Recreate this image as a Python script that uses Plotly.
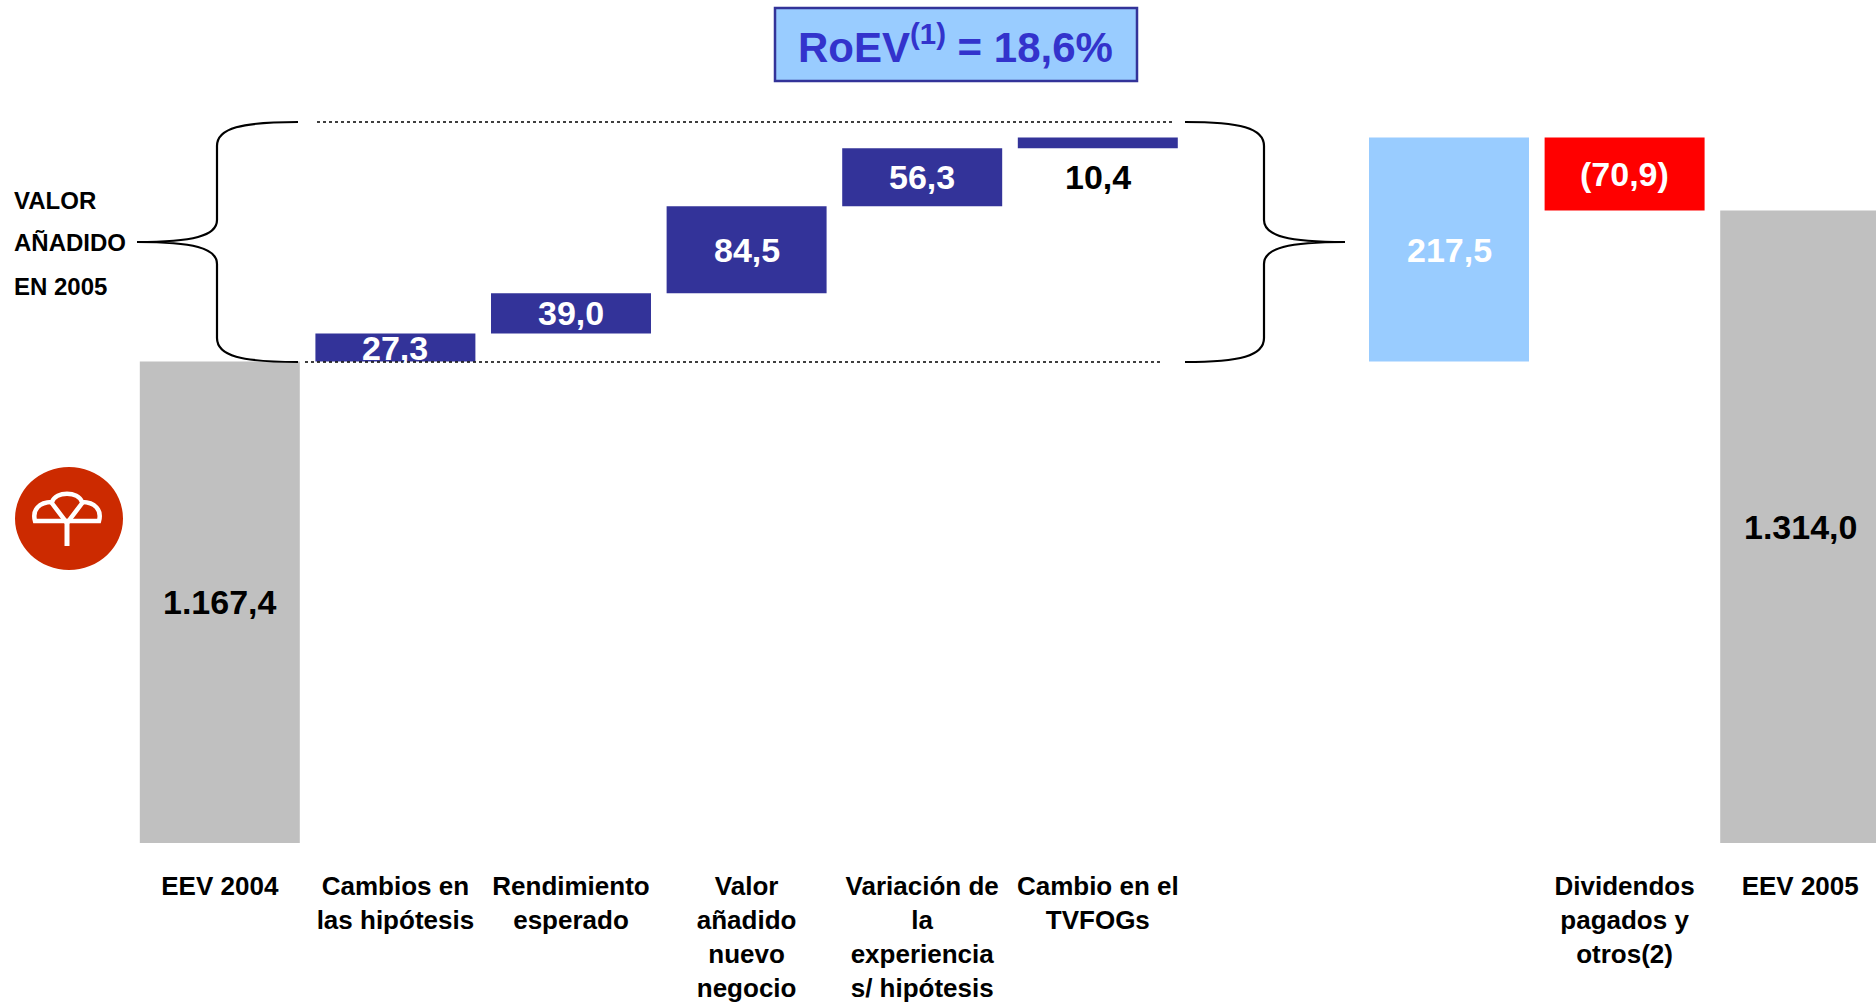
import plotly.graph_objects as go

# ---------------- data ----------------
tick_labels = [
    "EEV 2004",
    "Cambios en<br>las hipótesis",
    "Rendimiento<br>esperado",
    "Valor<br>añadido<br>nuevo<br>negocio",
    "Variación de<br>la<br>experiencia<br>s/ hipótesis",
    "Cambio en el<br>TVFOGs",
    "",
    "",
    "Dividendos<br>pagados y<br>otros(2)",
    "EEV 2005",
]
values = [1167.4, 27.3, 39.0, 84.5, 56.3, 10.4, None, 217.5, -70.9, 1314.0]
kinds = ["total", "inc", "inc", "inc", "inc", "inc", "blank", "subtotal", "dec", "total"]
side_labels = ["VALOR", "AÑADIDO", "EN 2005"]
roev_text = "RoEV<sup>(1)</sup> = 18,6%"

# ---------------- styles ----------------
FONT = "Liberation Sans, Arial, sans-serif"
kind_colors = {"total": "#C0C0C0", "inc": "#333399", "subtotal": "#99CCFF", "dec": "#FF0000"}
text_colors = {"total": "black", "inc": "white", "subtotal": "white", "dec": "white"}

W, H = 1876, 1007
ML, MB, MT = 132, 164, 0
Y0 = 700.0
PX_PER_UNIT = 1.03
SLOT = 175.6
plot_w = W - ML
plot_h = H - MB - MT
y_top = Y0 + plot_h / PX_PER_UNIT
x_end = -0.5 + plot_w / SLOT


def fmt(v):
    s = f"{abs(v):,.1f}".replace(",", "X").replace(".", ",").replace("X", ".")
    return f"({s})" if v < 0 else s


# pixel -> paper helpers for decorations
def XP(px):
    return (px - ML) / plot_w


def YP(py):
    return (H - MB - py) / plot_h


# ---------------- waterfall bars ----------------
xs, heights, bases, colors = [], [], [], []
annotations = []
running = 0.0
last_total = 0.0
for i, (v, k) in enumerate(zip(values, kinds)):
    if k == "blank":
        continue
    if k == "total":
        b = 0.0
        running = v
        last_total = v
    elif k == "subtotal":
        b = last_total
    else:
        b = running
        running += v
    xs.append(i)
    heights.append(v)
    bases.append(b)
    colors.append(kind_colors[k])
    lo, hi = (b, b + v) if v >= 0 else (b + v, b)
    lo_vis = max(lo, Y0)
    if k == "inc" and (hi - lo) < 15:
        ann = dict(x=i, y=lo, yshift=-29, font=dict(size=34, color="black", family=FONT))
    else:
        ann = dict(x=i, y=(lo_vis + hi) / 2, yshift=0, font=dict(size=34, color=text_colors[k], family=FONT))
    ann.update(xref="x", yref="y", text=f"<b>{fmt(v)}</b>", showarrow=False,
               xanchor="center", yanchor="middle")
    annotations.append(ann)

fig = go.Figure()
fig.add_trace(go.Bar(
    x=xs, y=heights, base=bases, marker=dict(color=colors, line=dict(width=0)),
    width=0.911, hoverinfo="skip", showlegend=False,
))

# ---------------- decorations ----------------
shapes = []
# dotted guide lines
shapes.append(dict(type="line", xref="paper", yref="paper", x0=XP(317), x1=XP(1172), y0=YP(122), y1=YP(122),
                   line=dict(color="black", width=1.5, dash="dot")))
shapes.append(dict(type="line", xref="paper", yref="paper", x0=XP(305), x1=XP(1160), y0=YP(362), y1=YP(362),
                   line=dict(color="black", width=1.5, dash="dot")))


def P(pts):
    return " ".join(f"{XP(a):.6f},{YP(b):.6f}" for a, b in pts)


def brace(x_end_px, x_mid_px, x_tip_px, y_top_px, y_mid_px, y_bot_px):
    d = x_mid_px - x_end_px
    path = (
        f"M {P([(x_end_px, y_top_px)])} "
        f"C {P([(x_end_px + d * 0.7, y_top_px), (x_mid_px, y_top_px + 6), (x_mid_px, y_top_px + 24)])} "
        f"L {P([(x_mid_px, y_mid_px - 22)])} "
        f"C {P([(x_mid_px, y_mid_px - 6), (x_mid_px + (x_tip_px - x_mid_px) * 0.3, y_mid_px), (x_tip_px, y_mid_px)])} "
        f"M {P([(x_tip_px, y_mid_px)])} "
        f"C {P([(x_mid_px + (x_tip_px - x_mid_px) * 0.3, y_mid_px), (x_mid_px, y_mid_px + 6), (x_mid_px, y_mid_px + 22)])} "
        f"L {P([(x_mid_px, y_bot_px - 24)])} "
        f"C {P([(x_mid_px, y_bot_px - 6), (x_end_px + d * 0.7, y_bot_px), (x_end_px, y_bot_px)])}"
    )
    return dict(type="path", xref="paper", yref="paper", path=path, line=dict(color="black", width=2.2))


shapes.append(brace(298, 217, 137, 122, 242, 362))
shapes.append(brace(1185, 1264, 1345, 122, 242, 362))

# RoEV box
shapes.append(dict(type="rect", xref="paper", yref="paper", x0=XP(775), x1=XP(1137), y0=YP(81), y1=YP(8),
                   fillcolor="#99CCFF", line=dict(color="#333399", width=2.5), layer="below"))

# logo
shapes.append(dict(type="circle", xref="paper", yref="paper", x0=XP(15), x1=XP(123), y0=YP(570), y1=YP(467),
                   fillcolor="#CC2A00", line=dict(width=0)))
logo_dome = (
    f"M {P([(35, 521)])} C {P([(32, 510), (39, 502), (52, 502)])} "
    f"C {P([(56, 491), (78, 491), (82, 502)])} "
    f"C {P([(95, 502), (102, 510), (99, 521)])} Z"
)
shapes.append(dict(type="path", xref="paper", yref="paper", path=logo_dome, line=dict(color="white", width=4.5)))
shapes.append(dict(type="path", xref="paper", yref="paper",
                   path=f"M {P([(51, 502)])} L {P([(67, 523)])} L {P([(83, 502)])}",
                   line=dict(color="white", width=4.5)))
shapes.append(dict(type="path", xref="paper", yref="paper",
                   path=f"M {P([(67, 520)])} L {P([(67, 546)])}",
                   line=dict(color="white", width=5)))

annotations.append(dict(xref="paper", yref="paper", x=XP(955), y=YP(44), text=f"<b>{roev_text}</b>",
                        showarrow=False, xanchor="center", yanchor="middle",
                        font=dict(size=42, color="#3333CC", family=FONT)))
for txt, py in zip(side_labels, [200, 243, 286]):
    annotations.append(dict(xref="paper", yref="paper", x=XP(12), y=YP(py), text=f"<b>{txt}</b>",
                            showarrow=False, xanchor="left", yanchor="middle",
                            font=dict(size=24, color="black", family=FONT)))

tick_pos = [i for i, t in enumerate(tick_labels) if t]
tick_txt = [f"<b>{tick_labels[i]}</b>" for i in tick_pos]

fig.update_layout(
    width=W, height=H,
    margin=dict(l=ML, r=0, t=MT, b=MB, pad=0),
    paper_bgcolor="white", plot_bgcolor="white",
    bargap=0.089,
    shapes=shapes, annotations=annotations,
    xaxis=dict(range=[-0.5, x_end], tickmode="array", tickvals=tick_pos, ticktext=tick_txt,
               tickfont=dict(size=26, color="black", family=FONT),
               ticks="outside", ticklen=20, tickcolor="rgba(0,0,0,0)",
               showgrid=False, zeroline=False, showline=False, fixedrange=True),
    yaxis=dict(range=[Y0, y_top], visible=False, showgrid=False, zeroline=False, fixedrange=True),
    showlegend=False,
)

fig.write_html("out.html", config={"displayModeBar": False},
               post_script="document.body.style.margin='0px';document.body.style.overflow='hidden';")
